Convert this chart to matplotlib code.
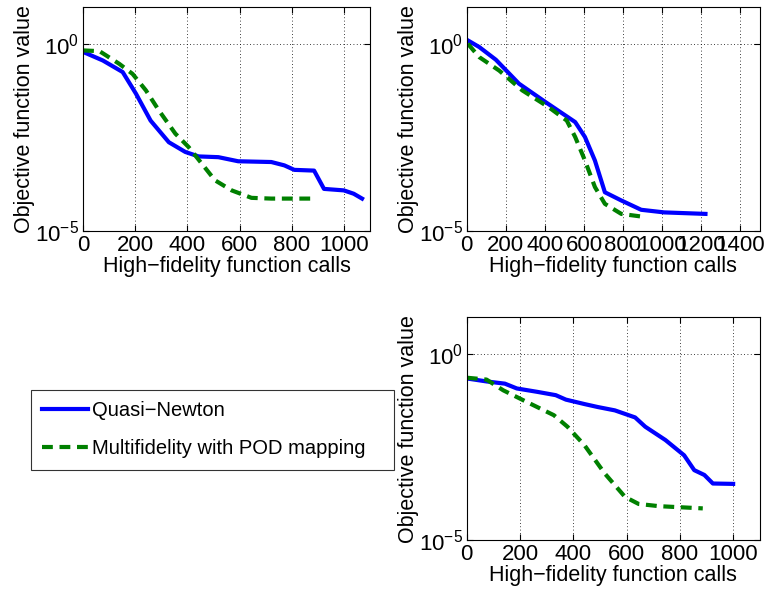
import numpy as np
import matplotlib
matplotlib.use('Agg')
import matplotlib.pyplot as plt
from matplotlib.ticker import FixedLocator, NullLocator

plt.rcParams['font.family'] = ['Liberation Sans', 'DejaVu Sans']
plt.rcParams['mathtext.fontset'] = 'custom'
plt.rcParams['mathtext.rm'] = 'Liberation Sans'

# case 1 (top left)
qn1_x = [0, 76, 152, 203, 259, 329, 392, 443, 519, 595, 722, 772, 810, 886, 924, 1000, 1038, 1070]
qn1_y = [-0.2, -0.43, -0.74, -1.32, -2.04, -2.62, -2.88, -3.0, -3.02, -3.13, -3.15, -3.24, -3.36, -3.38, -3.87, -3.91, -4.0, -4.13]
mf1_x = [0, 63, 139, 190, 241, 291, 354, 405, 456, 506, 570, 646, 722, 886]
mf1_y = [-0.16, -0.18, -0.52, -0.79, -1.23, -1.77, -2.39, -2.75, -3.2, -3.64, -3.91, -4.11, -4.13, -4.13]

# case 2 (top right)
qn2_x = [5, 64, 149, 267, 402, 504, 555, 605, 656, 707, 791, 893, 1011, 1222]
qn2_y = [0.11, -0.07, -0.41, -1.05, -1.54, -1.9, -2.08, -2.48, -3.11, -3.96, -4.18, -4.43, -4.5, -4.54]
mf2_x = [5, 64, 166, 284, 419, 512, 555, 605, 656, 707, 791, 893]
mf2_y = [0.02, -0.34, -0.70, -1.23, -1.68, -2.04, -2.48, -3.11, -3.82, -4.27, -4.54, -4.61]

# case 3 (bottom right)
qn3_x = [0, 74, 143, 188, 264, 334, 372, 442, 492, 556, 632, 670, 746, 816, 854, 892, 924, 1000]
qn3_y = [-0.65, -0.73, -0.79, -0.92, -1.01, -1.10, -1.22, -1.34, -1.42, -1.51, -1.70, -1.95, -2.31, -2.72, -3.12, -3.25, -3.48, -3.49]
mf3_x = [0, 74, 137, 213, 327, 378, 442, 518, 594, 645, 721, 886]
mf3_y = [-0.63, -0.68, -0.97, -1.24, -1.64, -1.95, -2.45, -3.21, -3.84, -4.03, -4.09, -4.15]

fig = plt.figure(figsize=(7.69, 5.94), dpi=100)

panels = [
    ([0.108, 0.611, 0.373, 0.377], qn1_x, qn1_y, mf1_x, mf1_y, 1100, np.arange(0, 1001, 200)),
    ([0.607, 0.611, 0.381, 0.377], qn2_x, qn2_y, mf2_x, mf2_y, 1500, np.arange(0, 1401, 200)),
    ([0.607, 0.091, 0.381, 0.375], qn3_x, qn3_y, mf3_x, mf3_y, 1100, np.arange(0, 1001, 200)),
]

for rect, qx, qy, mx, my, xmax, xt in panels:
    ax = fig.add_axes(rect)
    l1, = ax.semilogy(qx, 10.0 ** np.array(qy), color='#0000ff', lw=3, label='Quasi\u2212Newton')
    l2, = ax.semilogy(mx, 10.0 ** np.array(my), color='#008000', lw=3, ls=(0, (2.6, 1.6)),
                      label='Multifidelity with POD mapping')
    ax.set_xlim(0, xmax)
    ax.set_ylim(1e-5, 10)
    ax.set_xticks(xt)
    ax.yaxis.set_major_locator(FixedLocator([1e-5, 1e0]))
    ax.yaxis.set_minor_locator(NullLocator())
    ax.set_yticklabels(['$10^{-5}$', '$10^{0}$'])
    ax.tick_params(direction='in', top=True, right=True, labelsize=16, length=4, pad=3)
    ax.grid(True, which='major', color='black', ls=(0, (1, 3)), lw=0.6)
    ax.set_xlabel('High\u2212fidelity function calls', fontsize=15.5, labelpad=0)
    ax.set_ylabel('Objective function value', fontsize=15.5, labelpad=0)
    for s in ax.spines.values():
        s.set_linewidth(0.8)

leg = fig.legend(handles=[l1, l2], loc='upper left', bbox_to_anchor=(0.04, 0.214, 0.472, 0.129),
                 mode='expand', fontsize=14.5, handlelength=2.3, frameon=True, fancybox=False,
                 borderaxespad=0, handletextpad=0.2, labelspacing=0.95, borderpad=0.55)
leg.get_frame().set_edgecolor('black')
leg.get_frame().set_linewidth(0.8)

plt.savefig('out.png', dpi=100)
